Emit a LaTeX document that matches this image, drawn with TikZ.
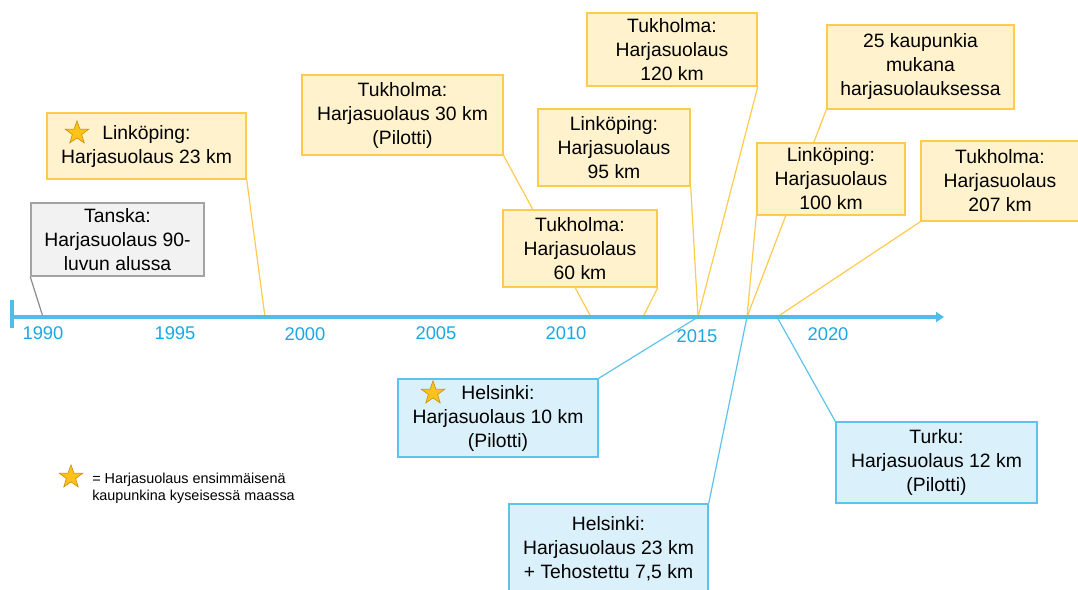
\documentclass[tikz,border=0pt]{standalone}
\usepackage{fontspec}
\setmainfont{Liberation Sans}
\usetikzlibrary{
    positioning,
    arrows.meta,
    shapes.geometric,
    backgrounds
}
\definecolor{NoteYellow}{HTML}{FFF2CC}
\definecolor{EdgeYellow}{HTML}{FFCB4F}
\definecolor{NoteBlue}{HTML}{DAF0FA}
\definecolor{EdgeBlue}{HTML}{5CC3EC}
\definecolor{NoteGray}{HTML}{F2F2F2}
\definecolor{EdgeGray}{HTML}{A3A3A3}
\definecolor{AxisBlue}{HTML}{4FBDE8}
\definecolor{YearBlue}{HTML}{1AA7E4}
\definecolor{StarGold}{HTML}{FFC21A}
\definecolor{StarEdge}{HTML}{C08A00}

\begin{document}
\begin{tikzpicture}[
    x=0.75pt, y=-0.75pt,
    note/.style={rectangle, draw, line width=1.1pt, align=center, inner sep=0pt, font=\fontsize{14.5}{18}\selectfont},
    ynote/.style={note, fill=NoteYellow, draw=EdgeYellow},
    bnote/.style={note, fill=NoteBlue, draw=EdgeBlue},
    gnote/.style={note, fill=NoteGray, draw=EdgeGray},
    yrel/.style={draw=EdgeYellow, line width=0.9pt},
    brel/.style={draw=EdgeBlue, line width=0.9pt},
    grel/.style={draw=EdgeGray!85!black, line width=0.9pt},
    axis/.style={draw=AxisBlue, line width=2.8pt, -{Triangle[length=6pt, width=7.5pt]}},
    year/.style={text=YearBlue, font=\fontsize{13.8}{16}\selectfont, inner sep=0pt},
    goldstar/.style={star, star points=5, star point ratio=2.5, fill=StarGold, draw=StarEdge, line width=0.4pt, minimum size=18.5pt, inner sep=0pt},
    legend/.style={align=left, inner sep=0pt, font=\fontsize{10.8}{13}\selectfont},
]
\useasboundingbox (0,0) rectangle (1078,589);

% timeline
\coordinate (axstart) at (12,317);
\coordinate (axend) at (944,317);
\draw[axis] (axstart) -- (axend);
\draw[draw=AxisBlue, line width=2.8pt] (12,300) -- (12,328);
\foreach \yr/\px/\py in {1990/43/333, 1995/175/333, 2000/305/334, 2005/436/333, 2010/566/333, 2015/697/336, 2020/828/334}
  \node[year] (yr\yr) at (\px,\py) {\yr};

% points on the axis
\coordinate (pA) at (43,317);
\coordinate (pB) at (265,317);
\coordinate (pC) at (591,317);
\coordinate (pD) at (643,317);
\coordinate (pE) at (698,317);
\coordinate (pF) at (747,317);
\coordinate (pG) at (777,317);

% above the axis
\node[gnote, minimum width=129.75pt, minimum height=54.75pt] (tanska) at (117.5,239.5) {Tanska:\\Harjasuolaus 90-\\luvun alussa};
\node[ynote, minimum width=149.25pt, minimum height=49.5pt] (lin23) at (146.5,146) {Linköping:\\Harjasuolaus 23 km};
\node[goldstar] (star1) at (77,133) {};
\node[ynote, minimum width=150.75pt, minimum height=60pt] (tuk30) at (402.5,115) {Tukholma:\\Harjasuolaus 30 km\\(Pilotti)};
\node[ynote, minimum width=115.5pt, minimum height=57.75pt] (tuk60) at (580,248.5) {Tukholma:\\Harjasuolaus\\60 km};
\node[ynote, minimum width=114pt, minimum height=57.75pt] (lin95) at (614,147.5) {Linköping:\\Harjasuolaus\\95 km};
\node[ynote, minimum width=127.5pt, minimum height=54.75pt] (tuk120) at (672,49.5) {Tukholma:\\Harjasuolaus\\120 km};
\node[ynote, minimum width=140.25pt, minimum height=63pt] (kaup25) at (920.5,67) {25 kaupunkia\\mukana\\harjasuolauksessa};
\node[ynote, minimum width=111pt, minimum height=54pt] (lin100) at (831,179) {Linköping:\\Harjasuolaus\\100 km};
\node[ynote, minimum width=118.5pt, minimum height=60pt] (tuk207) at (1000,181) {Tukholma:\\Harjasuolaus\\207 km};

% below the axis
\node[bnote, minimum width=150pt, minimum height=58.5pt] (hel10) at (498,418) {Helsinki:\\Harjasuolaus 10 km\\(Pilotti)};
\node[goldstar] (star2) at (433,393) {};
\node[bnote, minimum width=149.25pt, minimum height=67.5pt] (hel23) at (608.5,549) {Helsinki:\\Harjasuolaus 23 km\\+ Tehostettu 7,5 km};
\node[bnote, minimum width=150.75pt, minimum height=60.75pt] (turku) at (936.5,462.5) {Turku:\\Harjasuolaus 12 km\\(Pilotti)};

% legend
\node[goldstar] (legstar) at (71,477) {};
\node[legend, anchor=west] (legtxt) at (92,488.5) {= Harjasuolaus ensimmäisenä\\kaupunkina kyseisessä maassa};

% callouts
\begin{pgfonlayer}{background}
\draw[grel] (tanska.south west) -- (pA);
\draw[yrel] (lin23.south east) -- (pB);
\draw[yrel] (tuk30.south east) -- (pC);
\draw[yrel] (tuk60.south east) -- (pD);
\draw[yrel] (lin95.south east) -- (pE);
\draw[yrel] (tuk120.south east) -- (pE);
\draw[yrel] (kaup25.south west) -- (pF);
\draw[yrel] (lin100.south west) -- (pF);
\draw[yrel] (tuk207.south west) -- (pG);
\draw[brel] (hel10.north east) -- (pE);
\draw[brel] (hel23.north east) -- (pF);
\draw[brel] (turku.north west) -- (pG);
\end{pgfonlayer}
\end{tikzpicture}
\end{document}
